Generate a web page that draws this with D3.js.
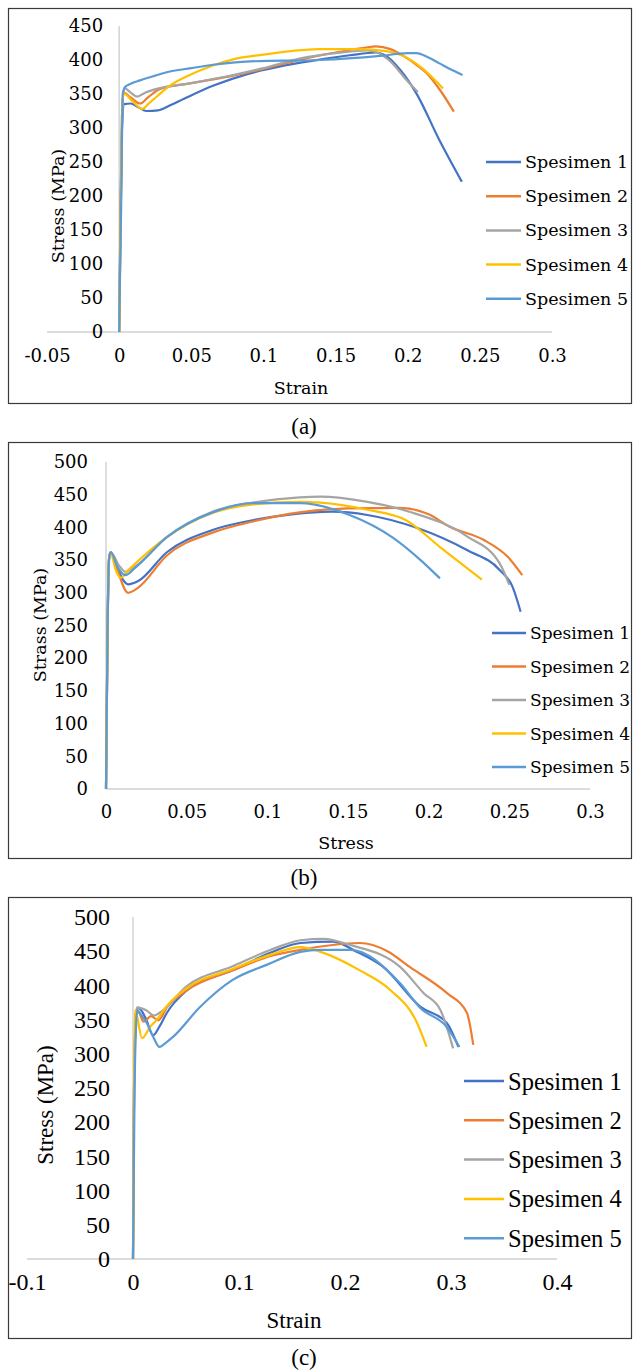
<!DOCTYPE html>
<html>
<head>
<meta charset="utf-8">
<script src="https://cdn.jsdelivr.net/npm/d3@7"></script>
<style>
  body { margin: 0; background: #fff; }
  svg text { fill: #000; font-family: "Liberation Serif", serif; }
</style>
</head>
<body>
<div id="chart"></div>
<script>
var seriesNames = ["Spesimen 1", "Spesimen 2", "Spesimen 3", "Spesimen 4", "Spesimen 5"];
var seriesColors = ["#4472C4", "#ED7D31", "#A5A5A5", "#FFC000", "#5B9BD5"];

// panel (a) : [strain, stress]
var a1 = [[0,0],[0.002,300],[0.0035,335],[0.008,336],[0.013,331],[0.019,325],[0.027,326],[0.035,333],[0.045,343],[0.065,362],[0.09,380],[0.115,392],[0.14,401],[0.16,407],[0.178,411],[0.185,406],[0.195,385],[0.206,351],[0.222,282],[0.2375,221]];
var a2 = [[0,0],[0.002,320],[0.003,352],[0.008,345],[0.0145,336],[0.02,345],[0.028,357],[0.05,366],[0.079,377],[0.1,387],[0.125,400],[0.15,411],[0.17,418],[0.178,420],[0.188,416],[0.197,406],[0.206,393],[0.213,381],[0.222,357],[0.232,324]];
var a3 = [[0,0],[0.002,320],[0.0035,359],[0.008,352],[0.0125,346],[0.018,352],[0.0235,356],[0.05,366],[0.079,378],[0.1,388],[0.125,402],[0.15,410],[0.172,414],[0.18,410],[0.188,398],[0.199,371],[0.207,353]];
var a4 = [[0,0],[0.002,320],[0.003,351],[0.009,340],[0.016,328],[0.021,337],[0.026,346],[0.035,362],[0.047,376],[0.065,392],[0.079,401],[0.1,408],[0.114,412],[0.139,416],[0.165,416],[0.185,413],[0.197,406],[0.21,388],[0.2245,358]];
var a5 = [[0,0],[0.0015,200],[0.0025,350],[0.004,360],[0.008,365],[0.0145,370],[0.025,377],[0.033,382],[0.05,388],[0.065,393],[0.091,398],[0.139,400],[0.181,406],[0.2,410],[0.206,410],[0.214,404],[0.222,395],[0.23,386],[0.238,378]];

// panel (b)
var b1 = [[0,0],[0.001,250],[0.002,355],[0.003,362],[0.006,345],[0.01,322],[0.0137,313],[0.02,318],[0.0377,362],[0.066,396],[0.091,411],[0.115,420],[0.14,424],[0.162,419],[0.193,399],[0.224,365],[0.244,335],[0.252,309],[0.257,271]];
var b2 = [[0,0],[0.001,250],[0.002,355],[0.003,362],[0.007,335],[0.0137,300],[0.02,308],[0.0377,357],[0.066,392],[0.091,409],[0.12,423],[0.15,429],[0.182,430],[0.2,420],[0.213,401],[0.234,381],[0.249,355],[0.258,327]];
var b3 = [[0,0],[0.001,250],[0.002,355],[0.003,362],[0.008,342],[0.012,332],[0.018,340],[0.0377,385],[0.066,424],[0.091,438],[0.12,446],[0.133,447],[0.162,439],[0.188,424],[0.224,386],[0.244,345],[0.25,312]];
var b4 = [[0,0],[0.001,250],[0.002,355],[0.003,360],[0.006,335],[0.009,323],[0.014,335],[0.0377,385],[0.066,422],[0.091,435],[0.12,439],[0.133,438],[0.162,427],[0.186,411],[0.207,370],[0.233,320]];
var b5 = [[0,0],[0.001,250],[0.002,355],[0.003,362],[0.007,340],[0.012,327],[0.018,338],[0.0377,385],[0.066,423],[0.091,437],[0.12,437],[0.151,419],[0.178,384],[0.195,350],[0.207,322]];

// panel (c)
var c1 = [[0,0],[0.001,250],[0.003,360],[0.005,367],[0.012,352],[0.019,327],[0.025,340],[0.032,360],[0.051,393],[0.094,422],[0.13,448],[0.158,462],[0.189,464],[0.21,450],[0.236,427],[0.271,369],[0.296,345],[0.307,310]];
var c2 = [[0,0],[0.001,250],[0.003,355],[0.005,361],[0.01,347],[0.017,355],[0.024,349],[0.032,368],[0.05,392],[0.094,422],[0.13,443],[0.158,452],[0.214,462],[0.24,450],[0.261,427],[0.296,389],[0.315,360],[0.321,313]];
var c3 = [[0,0],[0.001,250],[0.003,360],[0.004,368],[0.012,364],[0.02,356],[0.027,362],[0.05,398],[0.094,428],[0.13,452],[0.158,466],[0.18,468],[0.205,459],[0.252,427],[0.274,389],[0.29,364],[0.302,308]];
var c4 = [[0,0],[0.001,250],[0.002,364],[0.0085,323],[0.016,339],[0.022,349],[0.032,370],[0.05,395],[0.094,424],[0.13,445],[0.158,456],[0.177,449],[0.214,422],[0.243,393],[0.268,345],[0.277,310]];
var c5 = [[0,0],[0.0015,250],[0.003,345],[0.004,364],[0.008,356],[0.013,345],[0.019,325],[0.025,310],[0.03,315],[0.038,325],[0.063,368],[0.094,408],[0.126,430],[0.158,449],[0.176,452],[0.205,452],[0.252,403],[0.271,367],[0.296,339],[0.308,310]];

var xTicksA = [-0.05, 0, 0.05, 0.1, 0.15, 0.2, 0.25, 0.3];
var xTicksB = [0, 0.05, 0.1, 0.15, 0.2, 0.25, 0.3];
var xTicksC = [-0.1, 0, 0.1, 0.2, 0.3, 0.4];
var yTicksA = [0, 50, 100, 150, 200, 250, 300, 350, 400, 450];
var yTicksBC = [0, 50, 100, 150, 200, 250, 300, 350, 400, 450, 500];

var libSerif = "'Liberation Serif', serif";
var djvSerif = "'DejaVu Serif', serif";
var W = 634, H = 1372;
var svg = d3.select("#chart").append("svg")
    .attr("width", W)
    .attr("height", H);
svg.append("rect").attr("width", W).attr("height", H).attr("fill", "#fff");

function sizeText(sel, s, fam) {
    sel.style("font-size", s + "px").style("font-family", fam);
}

function drawPanel(p) {
    // frame
    svg.append("rect")
        .attr("x", 8.5).attr("y", p.frame[0] + 0.5)
        .attr("width", 623).attr("height", p.frame[1] - p.frame[0])
        .attr("fill", "none").attr("stroke", "#3a3a3a").attr("stroke-width", 1.2);

    var x = d3.scaleLinear().domain(p.xDomain).range(p.xRange);
    var y = d3.scaleLinear().domain([0, p.yMax]).range(p.yRange);
    var g = svg.append("g");

    // zero lines
    g.append("line")
        .attr("x1", x(p.xDomain[0])).attr("x2", x(p.xDomain[1]))
        .attr("y1", y(0)).attr("y2", y(0))
        .attr("stroke", "#d0d0d0").attr("stroke-width", 1.5);
    g.append("line")
        .attr("x1", x(0)).attr("x2", x(0))
        .attr("y1", y(0)).attr("y2", y(p.yMax))
        .attr("stroke", "#c8c8c8").attr("stroke-width", 1.2);

    // axes
    var ya = g.append("g")
        .attr("transform", "translate(" + x(0) + ",0)")
        .call(d3.axisLeft(y).tickValues(p.yTicks).tickSize(0).tickPadding(p.yPad));
    ya.select(".domain").remove();
    sizeText(ya.selectAll("text"), p.fs, p.fam);

    var xa = g.append("g")
        .attr("transform", "translate(0," + y(0) + ")")
        .call(d3.axisBottom(x).tickValues(p.xTicks).tickSize(0).tickPadding(p.xPad)
            .tickFormat(function(d) { return String(d); }));
    xa.select(".domain").remove();
    sizeText(xa.selectAll("text"), p.fs, p.fam);

    // titles
    var xt = g.append("text")
        .attr("x", p.xTitle[0]).attr("y", p.xTitle[1])
        .attr("text-anchor", "middle").attr("dominant-baseline", "central")
        .text(p.xLabel);
    sizeText(xt, p.tfs, p.fam);
    var yt = g.append("text")
        .attr("transform", "translate(" + p.yTitle[0] + "," + p.yTitle[1] + ") rotate(-90)")
        .attr("text-anchor", "middle").attr("dominant-baseline", "central")
        .text(p.yLabel);
    sizeText(yt, p.tfs, p.fam);

    // curves
    var line = d3.line()
        .x(function(d) { return x(d[0]); })
        .y(function(d) { return y(d[1]); })
        .curve(d3.curveMonotoneX);
    g.selectAll(".curve")
        .data(p.series)
        .enter()
        .append("path")
        .attr("class", "curve")
        .attr("d", function(d) { return line(d); })
        .attr("fill", "none")
        .attr("stroke", function(d, i) { return seriesColors[i]; })
        .attr("stroke-width", 2.2)
        .attr("stroke-linejoin", "round");

    // legend
    var lg = g.selectAll(".leg")
        .data(seriesNames)
        .enter()
        .append("g")
        .attr("class", "leg")
        .attr("transform", function(d, i) { return "translate(" + p.legend[0] + "," + (p.legend[1] + i * p.legend[2]) + ")"; });
    lg.append("line")
        .attr("x1", 0).attr("x2", p.legend[3])
        .attr("stroke", function(d, i) { return seriesColors[i]; })
        .attr("stroke-width", 2.5);
    var lt = lg.append("text")
        .attr("x", p.legend[3] + 4)
        .attr("dominant-baseline", "central")
        .text(function(d) { return d; });
    sizeText(lt, p.lfs, p.fam);

    // caption
    var cap = svg.append("text")
        .attr("x", 304).attr("y", p.caption)
        .attr("text-anchor", "middle").attr("dominant-baseline", "central")
        .text(p.tag);
    sizeText(cap, 23, libSerif);
}

drawPanel({
    frame: [8, 403], xDomain: [-0.05, 0.3], xRange: [47, 552], yMax: 450, yRange: [332, 26],
    xTicks: xTicksA, yTicks: yTicksA, fs: 18, tfs: 17.5, lfs: 17.5, yPad: 16, xPad: 17, fam: djvSerif,
    xLabel: "Strain", yLabel: "Stress (MPa)", xTitle: [301, 388], yTitle: [58, 206],
    series: [a1, a2, a3, a4, a5], legend: [486, 162, 34.2, 35], caption: 426, tag: "(a)"
});
drawPanel({
    frame: [442, 858], xDomain: [0, 0.3], xRange: [106, 590], yMax: 500, yRange: [789, 462],
    xTicks: xTicksB, yTicks: yTicksBC, fs: 18, tfs: 17.5, lfs: 17, yPad: 18, xPad: 16, fam: djvSerif,
    xLabel: "Stress", yLabel: "Strass (MPa)", xTitle: [346, 843], yTitle: [40, 625],
    series: [b1, b2, b3, b4, b5], legend: [492, 633, 33.5, 34], caption: 877, tag: "(b)"
});
drawPanel({
    frame: [897, 1338], xDomain: [-0.1, 0.4], xRange: [27, 557], yMax: 500, yRange: [1259, 917],
    xTicks: xTicksC, yTicks: yTicksBC, fs: 24, tfs: 23, lfs: 24.5, yPad: 23, xPad: 14, fam: libSerif,
    xLabel: "Strain", yLabel: "Stress (MPa)", xTitle: [294, 1320], yTitle: [45, 1105],
    series: [c1, c2, c3, c4, c5], legend: [464, 1081, 39.3, 40], caption: 1357, tag: "(c)"
});
</script>
</body>
</html>
